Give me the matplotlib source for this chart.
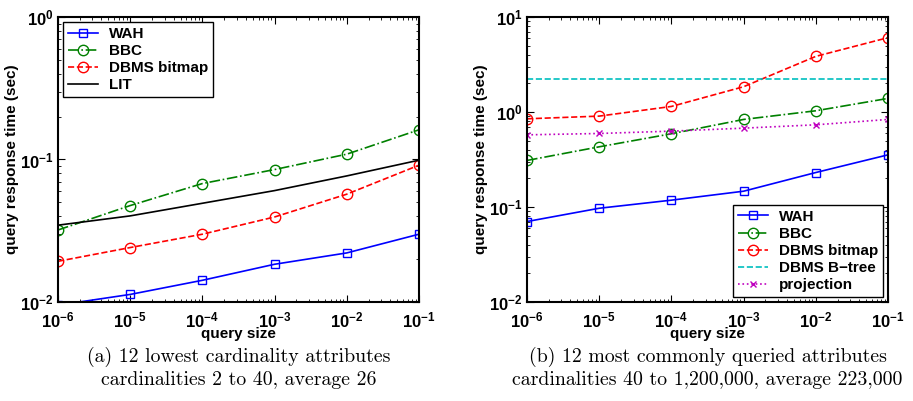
import matplotlib
matplotlib.use("Agg")
import matplotlib.pyplot as plt
import numpy as np

plt.rcParams['font.family'] = ['Liberation Sans', 'DejaVu Sans']
plt.rcParams['font.weight'] = 'bold'
plt.rcParams['mathtext.fontset'] = 'custom'
plt.rcParams['mathtext.rm'] = 'Liberation Sans:bold'
plt.rcParams['mathtext.bf'] = 'Liberation Sans:bold'
plt.rcParams['mathtext.default'] = 'bf'

# query sizes
sizes = [1e-6, 1e-5, 1e-4, 1e-3, 1e-2, 1e-1]

# (a) 12 lowest cardinality attributes
a_wah = [0.0095, 0.0113, 0.0142, 0.0184, 0.0221, 0.0299]
a_bbc = [0.032, 0.0475, 0.0678, 0.085, 0.109, 0.1616]
a_dbms = [0.0193, 0.0241, 0.0299, 0.0395, 0.0571, 0.0912]
a_lit = [0.0346, 0.0402, 0.0493, 0.0605, 0.0767, 0.0989]

# (b) 12 most commonly queried attributes
b_wah = [0.0703, 0.097, 0.118, 0.1466, 0.2306, 0.354]
b_bbc = [0.309, 0.43, 0.59, 0.835, 1.03, 1.39]
b_dbms = [0.848, 0.905, 1.144, 1.845, 3.85, 6.06]
b_btree = [2.24, 2.24, 2.24, 2.24, 2.24, 2.24]
b_proj = [0.575, 0.594, 0.629, 0.676, 0.733, 0.835]

captions = ["(a) 12 lowest cardinality attributes\ncardinalities 2 to 40, average 26",
            "(b) 12 most commonly queried attributes\ncardinalities 40 to 1,200,000, average 223,000"]

fig = plt.figure(figsize=(9.13, 4.01), dpi=100)
ax1 = fig.add_axes([0.0635, 0.2469, 0.3954, 0.7107])
ax2 = fig.add_axes([0.5772, 0.2469, 0.3954, 0.7107])

blue, green, red = '#0000FF', '#008000', '#FF0000'
cyan, magenta = '#00BFBF', '#BF00BF'

ax1.plot(sizes, a_wah, '-', color=blue, marker='s', ms=5.5, mfc='none', lw=1.2, label='WAH')
ax1.plot(sizes, a_bbc, '-.', color=green, marker='o', ms=7.5, mfc='none', lw=1.2, label='BBC')
ax1.plot(sizes, a_dbms, '--', color=red, marker='o', ms=7.5, mfc='none', lw=1.2, label='DBMS bitmap')
ax1.plot(sizes, a_lit, '-', color='black', lw=1.2, label='LIT')
ax1.set_ylim(1e-2, 1)

ax2.plot(sizes, b_wah, '-', color=blue, marker='s', ms=5.5, mfc='none', lw=1.2, label='WAH')
ax2.plot(sizes, b_bbc, '-.', color=green, marker='o', ms=7.5, mfc='none', lw=1.2, label='BBC')
ax2.plot(sizes, b_dbms, '--', color=red, marker='o', ms=7.5, mfc='none', lw=1.2, label='DBMS bitmap')
ax2.plot(sizes, b_btree, '--', color=cyan, lw=1.2, label='DBMS B\u2212tree')
ax2.plot(sizes, b_proj, ':', color=magenta, marker='x', ms=5, lw=1.2, label='projection')
ax2.set_ylim(1e-2, 10)

for ax, cap, loc in [(ax1, captions[0], 'upper left'), (ax2, captions[1], 'lower right')]:
    ax.set_xscale('log')
    ax.set_yscale('log')
    ax.set_xlim(1e-6, 1e-1)
    ax.set_xticks(sizes)
    ax.tick_params(which='both', direction='in', top=True, right=True, labelsize=12)
    ax.tick_params(which='major', length=5)
    ax.tick_params(which='minor', length=2.5)
    ax.tick_params(axis='x', pad=6)
    ax.tick_params(axis='y', pad=3)
    for s in ax.spines.values():
        s.set_linewidth(1.5)
    ax.set_xlabel('query size', fontsize=11, fontweight='bold', labelpad=-2)
    ax.set_ylabel('query response time (sec)', fontsize=11, fontweight='bold', labelpad=1)
    leg = ax.legend(loc=loc, fontsize=11, fancybox=False, edgecolor='black',
                    framealpha=1, borderaxespad=0.35, handlelength=2.0, labelspacing=0.2,
                    borderpad=0.3, handletextpad=0.7)
    leg.get_frame().set_linewidth(1.0)
    ax.text(0.5, -0.158, cap, transform=ax.transAxes, ha='center', va='top',
            fontsize=14.3, family='cmr10', fontweight='normal', linespacing=1.3)

fig.savefig('out.png', dpi=100)
